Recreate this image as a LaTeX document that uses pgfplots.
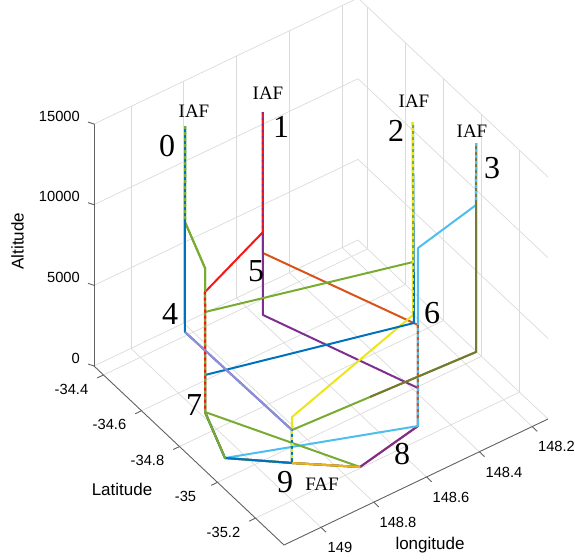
\documentclass[border=0pt]{standalone}
\usepackage{pgfplots}
\pgfplotsset{compat=1.18}
\usepackage{fontspec}
\setmainfont{Liberation Sans}
\newfontfamily\seriffont{Liberation Serif}
\definecolor{mblue}{rgb}{0,0.447,0.741}
\definecolor{morange}{rgb}{0.85,0.325,0.098}
\definecolor{myellowor}{rgb}{0.929,0.694,0.125}
\definecolor{mpurple}{rgb}{0.494,0.184,0.556}
\definecolor{mgreen}{rgb}{0.466,0.674,0.188}
\definecolor{mlightblue}{rgb}{0.301,0.745,0.933}
\definecolor{mred}{rgb}{0.98,0.08,0.08}
\definecolor{myellow}{rgb}{0.93,0.9,0.1}
\definecolor{molive}{rgb}{0.47,0.47,0.2}
\definecolor{mlav}{rgb}{0.58,0.55,0.85}
\definecolor{axgray}{rgb}{0.38,0.38,0.38}
\def\dx{on 3pt off 3pt }
\def\dxiv{\dx\dx\dx\dx}
\def\dy{on 2pt off 4pt }
\def\dyiv{\dy\dy\dy\dy}
\begin{document}
\begin{tikzpicture}
\begin{axis}[
  x={(-190pt,179pt)}, y={(-264pt,-126pt)}, z={(0pt,0.016133pt)},
  xmin=-35.35, xmax=-34.35, ymin=148.14, ymax=149.14, zmin=0, zmax=15000,
  xtick={-35.2,-35,-34.8,-34.6,-34.4},
  ytick={148.2,148.4,148.6,148.8,149},
  ztick={0,5000,10000,15000},
  xticklabels={}, yticklabels={}, zticklabels={},
  scaled x ticks=false, scaled y ticks=false, scaled z ticks=false,
  major tick length=0pt,
  grid=major,
  grid style={draw=gray!28, line width=0.7pt},
  axis line style={draw=none},
  clip=false,
  every axis plot/.append style={line width=2pt, line join=round},
]
% IAF 1 routes
\addplot3[morange] coordinates {(-34.6001,148.6799,14925) (-34.8066,148.8285,9638) (-35.1864,148.5147,6938) (-35.3343,148.6212,3150) (-35.2917,148.8102,1613) (-35.1655,148.9769,1763)};
\addplot3[mpurple] coordinates {(-34.6001,148.6799,14925) (-34.8974,148.8938,7313) (-35.2787,148.5811,4575) (-35.3343,148.6212,3150) (-35.2917,148.8102,1613) (-35.1655,148.9769,1763)};
\addplot3[mred] coordinates {(-34.6001,148.6799,14925) (-34.7759,148.8064,10425) (-34.7611,149.0154,8175) (-34.9369,149.1419,3675) (-35.0396,149.1401,1950) (-35.1655,148.9769,1763)};
% IAF 3 routes
\addplot3[mlightblue] coordinates {(-35.0225,148.1770,13763) (-35.1133,148.2424,11438) (-35.0736,148.4335,9825) (-35.3343,148.6212,3150) (-35.0396,149.1401,1950) (-35.1655,148.9769,1763)};
\addplot3[mgreen] coordinates {(-35.0225,148.1770,13763) (-35.3286,148.3973,5925) (-35.1172,148.9422,3000) (-35.1655,148.9769,1763)};
\addplot3[molive, dash pattern=on 324pt off 3000pt] coordinates {(-35.0225,148.1770,13763) (-35.3286,148.3973,5925) (-35.1172,148.9422,3000) (-35.1655,148.9769,1763)};
% IAF 2 routes
\addplot3[myellow] coordinates {(-34.8802,148.3133,14550) (-35.1629,148.5167,7313) (-35.0982,148.9285,3488) (-35.1172,148.9422,3000) (-35.1655,148.9769,1763)};
% IAF 0 green
\addplot3[mgreen] coordinates {(-34.4826,148.8907,14400) (-34.6232,148.9919,10800) (-34.7260,148.9901,9075) (-34.9369,149.1419,3675) (-35.0396,149.1401,1950) (-35.1655,148.9769,1763)};
% IAF 2 blue
\addplot3[mblue] coordinates {(-34.8802,148.3133,14550) (-35.1764,148.5226,7013) (-34.8827,149.1029,5063) (-34.9369,149.1419,3675) (-35.0396,149.1401,1950) (-35.1655,148.9769,1763)};
% IAF 0 green, upper part on top
\addplot3[mgreen, dash pattern=on 341pt off 3000pt] coordinates {(-34.4826,148.8907,14400) (-34.6232,148.9919,10800) (-34.7260,148.9901,9075) (-34.9369,149.1419,3675) (-35.0396,149.1401,1950) (-35.1655,148.9769,1763)};
% IAF 2 green
\addplot3[mgreen] coordinates {(-34.8802,148.3133,14550) (-35.0853,148.4608,9300) (-34.7904,149.0365,7425) (-34.9369,149.1419,3675) (-35.2917,148.8102,1613) (-35.1655,148.9769,1763)};
% IAF 0 blue and lavender
\addplot3[mblue] coordinates {(-34.4826,148.8907,14400) (-34.7843,149.1079,6675) (-35.1172,148.9422,3000) (-35.1655,148.9769,1763)};
\addplot3[mlav, dash pattern=on 0pt off 206pt on 145pt off 3000pt] coordinates {(-34.4826,148.8907,14400) (-34.7843,149.1079,6675) (-35.1172,148.9422,3000) (-35.1655,148.9769,1763)};
% IAF 1 yellow-orange
\addplot3[myellowor, dash pattern=on 0pt off 484pt on 3000pt] coordinates {(-34.6001,148.6799,14925) (-34.8066,148.8285,9638) (-35.1864,148.5147,6938) (-35.3343,148.6212,3150) (-35.2917,148.8102,1613) (-35.1655,148.9769,1763)};
% overlapping routes seen through each other on shared legs
\addplot3[myellow, /tikz/dash pattern/.expanded={\dxiv\dxiv\dxiv\dxiv\dxiv\dxiv\dxiv\dx\dx\dx on 3pt off 3000pt}] coordinates {(-34.8802,148.3133,14550) (-35.1629,148.5167,7313) (-35.0982,148.9285,3488) (-35.1172,148.9422,3000) (-35.1655,148.9769,1763)};
\addplot3[myellow, /tikz/dash pattern/.expanded={on 0pt off 365pt \dx\dx\dx\dx on 3pt off 3000pt}] coordinates {(-34.8802,148.3133,14550) (-35.1629,148.5167,7313) (-35.0982,148.9285,3488) (-35.1172,148.9422,3000) (-35.1655,148.9769,1763)};
\addplot3[mpurple, /tikz/dash pattern/.expanded={\dyiv\dyiv\dyiv\dyiv\dy\dy\dy on 2pt off 3000pt}] coordinates {(-34.6001,148.6799,14925) (-34.8974,148.8938,7313) (-35.2787,148.5811,4575) (-35.3343,148.6212,3150) (-35.2917,148.8102,1613) (-35.1655,148.9769,1763)};
\addplot3[mred, /tikz/dash pattern/.expanded={on 0pt off 203pt \dxiv\dxiv\dxiv\dxiv\dx\dx\dx on 3pt off 3000pt}] coordinates {(-34.6001,148.6799,14925) (-34.7759,148.8064,10425) (-34.7611,149.0154,8175) (-34.9369,149.1419,3675) (-35.0396,149.1401,1950) (-35.1655,148.9769,1763)};
\addplot3[mlightblue, /tikz/dash pattern/.expanded={\dxiv\dxiv\dx on 3pt off 3000pt}] coordinates {(-35.0225,148.1770,13763) (-35.1133,148.2424,11438) (-35.0736,148.4335,9825) (-35.3343,148.6212,3150) (-35.0396,149.1401,1950) (-35.1655,148.9769,1763)};
\addplot3[morange, /tikz/dash pattern/.expanded={on 0pt off 312pt \dxiv\dxiv\dxiv\dx\dx\dx on 3pt off 3000pt}] coordinates {(-34.6001,148.6799,14925) (-34.8066,148.8285,9638) (-35.1864,148.5147,6938) (-35.3343,148.6212,3150) (-35.2917,148.8102,1613) (-35.1655,148.9769,1763)};
\addplot3[mgreen, /tikz/dash pattern/.expanded={\dxiv\dxiv\dxiv\dx\dx\dx on 3pt off 3000pt}] coordinates {(-34.4826,148.8907,14400) (-34.6232,148.9919,10800) (-34.7260,148.9901,9075) (-34.9369,149.1419,3675) (-35.0396,149.1401,1950) (-35.1655,148.9769,1763)};
% axis lines
\draw[axgray, line width=0.9pt] (axis cs:-34.35,149.14,0) -- (axis cs:-35.35,149.14,0) -- (axis cs:-35.35,148.14,0);
\draw[axgray, line width=0.9pt] (axis cs:-34.35,149.14,0) -- (axis cs:-34.35,149.14,15000);
\pgfplotsinvokeforeach{-35.2,-35,-34.8,-34.6,-34.4}{\draw[axgray, line width=0.9pt] (axis cs:#1,149.14,0) -- ++(-6.3pt,-3pt);}
\pgfplotsinvokeforeach{148.2,148.4,148.6,148.8,149}{\draw[axgray, line width=0.9pt] (axis cs:-35.35,#1,0) -- ++(5.1pt,-4.8pt);}
\pgfplotsinvokeforeach{0,5000,10000,15000}{\draw[axgray, line width=0.9pt] (axis cs:-34.35,149.14,#1) -- ++(-6pt,2pt);}
\coordinate (A) at (axis cs:-34.35,149.14,0);
\end{axis}
% tick labels
\begingroup
\fontsize{14.7}{17}\selectfont
\node[inner sep=0pt] at ([shift={(-22.5pt,-23.5pt)}]A) {-34.4};
\node[inner sep=0pt] at ([shift={(15.5pt,-58.5pt)}]A) {-34.6};
\node[inner sep=0pt] at ([shift={(53.5pt,-94.3pt)}]A) {-34.8};
\node[inner sep=0pt] at ([shift={(91.5pt,-130pt)}]A) {-35};
\node[inner sep=0pt] at ([shift={(129.5pt,-166pt)}]A) {-35.2};
\node[inner sep=0pt, anchor=east] at ([shift={(-14pt,8pt)}]A) {0};
\node[inner sep=0pt, anchor=east] at ([shift={(-14pt,88.7pt)}]A) {5000};
\node[inner sep=0pt, anchor=east] at ([shift={(-14pt,169.3pt)}]A) {10000};
\node[inner sep=0pt, anchor=east] at ([shift={(-14pt,250pt)}]A) {15000};
\node[inner sep=0pt] at ([shift={(246pt,-181pt)}]A) {149};
\node[inner sep=0pt] at ([shift={(304pt,-156pt)}]A) {148.8};
\node[inner sep=0pt] at ([shift={(357pt,-131pt)}]A) {148.6};
\node[inner sep=0pt] at ([shift={(410pt,-106pt)}]A) {148.4};
\node[inner sep=0pt] at ([shift={(462.5pt,-80.6pt)}]A) {148.2};
\endgroup
% axis labels
\begingroup
\fontsize{17}{20}\selectfont
\node[inner sep=0pt, rotate=90] at ([shift={(-76.5pt,125pt)}]A) {Altitude};
\node[inner sep=0pt] at ([shift={(28pt,-123pt)}]A) {Latitude};
\node[inner sep=0pt] at ([shift={(336pt,-179pt)}]A) {longitude};
\endgroup
% waypoint labels
\begingroup
\seriffont
\fontsize{19}{22}\selectfont
\node[inner sep=0pt] at ([shift={(100pt,255pt)}]A) {IAF};
\node[inner sep=0pt] at ([shift={(174pt,273pt)}]A) {IAF};
\node[inner sep=0pt] at ([shift={(320pt,265pt)}]A) {IAF};
\node[inner sep=0pt] at ([shift={(378pt,235pt)}]A) {IAF};
\node[inner sep=0pt] at ([shift={(228pt,-118pt)}]A) {FAF};
\fontsize{32}{36}\selectfont
\node[inner sep=0pt] at ([shift={(73pt,220pt)}]A) {0};
\node[inner sep=0pt] at ([shift={(187pt,239pt)}]A) {1};
\node[inner sep=0pt] at ([shift={(302pt,235pt)}]A) {2};
\node[inner sep=0pt] at ([shift={(398pt,198pt)}]A) {3};
\node[inner sep=0pt] at ([shift={(76pt,52pt)}]A) {4};
\node[inner sep=0pt] at ([shift={(162pt,95pt)}]A) {5};
\node[inner sep=0pt] at ([shift={(338pt,53pt)}]A) {6};
\node[inner sep=0pt] at ([shift={(100pt,-39pt)}]A) {7};
\node[inner sep=0pt] at ([shift={(308pt,-88pt)}]A) {8};
\node[inner sep=0pt] at ([shift={(191pt,-116pt)}]A) {9};
\endgroup
\pgfresetboundingbox
\path[use as bounding box] ([shift={(-94pt,366pt)}]A) rectangle ([shift={(481pt,-193pt)}]A);
\end{tikzpicture}
\end{document}
